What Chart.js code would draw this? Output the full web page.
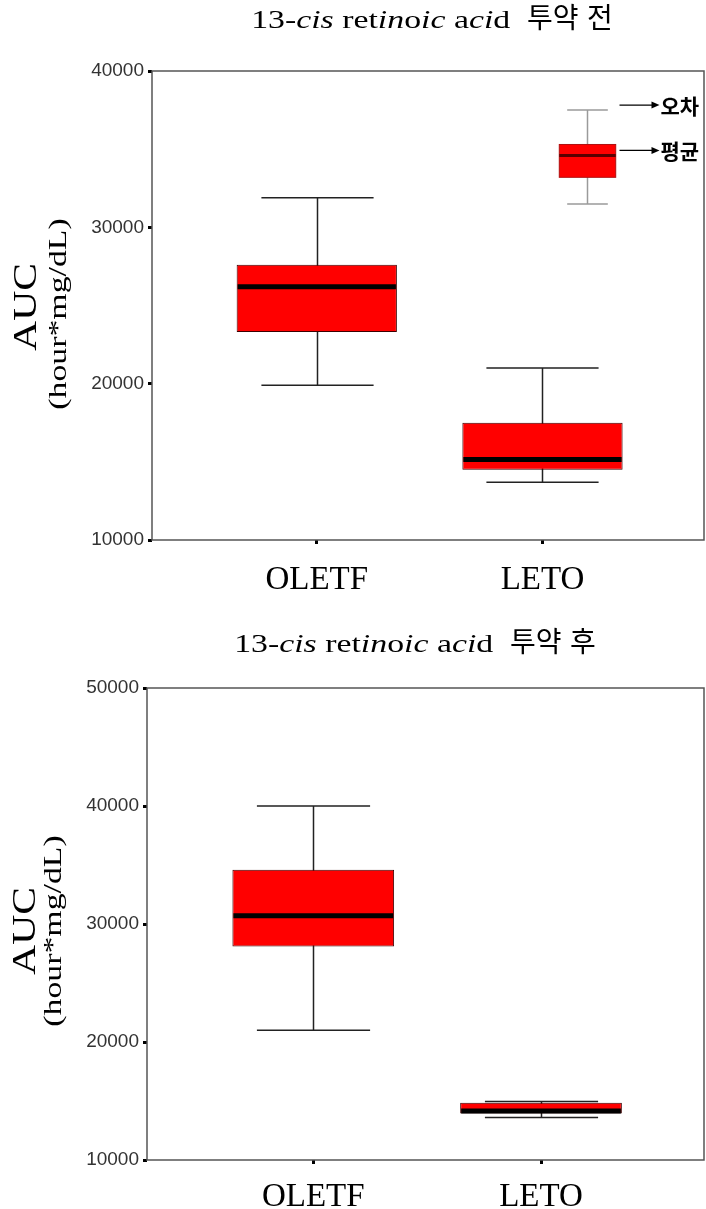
<!DOCTYPE html>
<html>
<head>
<meta charset="utf-8">
<script src="https://cdn.jsdelivr.net/npm/chart.js@4.4.0/dist/chart.umd.min.js"></script>
<style>
  html, body { margin: 0; padding: 0; background: #fff; }
  canvas { display: block; }
</style>
</head>
<body>
<canvas id="beforeChart" width="706" height="605"></canvas>
<canvas id="afterChart" width="706" height="604"></canvas>
<script>
// --- DATA ---
const categories = ['OLETF', 'LETO'];

// AUC (hour*mg/dL) before 13-cis retinoic acid
const beforeMin = [19900, 13700];
const beforeQ1 = [23300, 14500];
const beforeMedian = [26200, 15150];
const beforeQ3 = [27600, 17500];
const beforeMax = [31900, 21000];

// AUC (hour*mg/dL) after 13-cis retinoic acid
const afterMin = [21000, 13600];
const afterQ1 = [28100, 13950];
const afterMedian = [30700, 14150];
const afterQ3 = [34600, 14850];
const afterMax = [40000, 14950];

// sample box used as the key: min, q1, median, q3, max
const keyStats = [31500, 33200, 34600, 35300, 37500];
const keyPosition = 2.196;

const beforeTicks = [10000, 40000];
const afterTicks = [10000, 50000];

// --- TEXT HELPERS ---
const SERIF = '"Liberation Serif", "DejaVu Serif", serif';
const HANGUL = '"Noto Sans CJK KR", sans-serif';

function titleSegments(suffix) {
    const up = `26px ${SERIF}`;
    const it = `italic 26px ${SERIF}`;
    const ko = `28px ${HANGUL}`;
    return [
        { text: '13-', font: up, sx: 1.3 },
        { text: 'cis', font: it, sx: 1.3 },
        { text: ' ret', font: up, sx: 1.3 },
        { text: 'in', font: it, sx: 1.3 },
        { text: 'o', font: up, sx: 1.3 },
        { text: 'ic', font: it, sx: 1.3 },
        { text: ' a', font: up, sx: 1.3 },
        { text: 'ci', font: it, sx: 1.3 },
        { text: 'd', font: up, sx: 1.3 },
        { text: '  ', font: up, sx: 1.3 },
        { text: '투약', font: ko, sx: 1 },
        { text: ' ', font: up, sx: 1.3 },
        { text: suffix, font: ko, sx: 1 }
    ];
}

function drawSegments(ctx, segs, cx, baseline) {
    const widths = segs.map(s => {
        ctx.font = s.font;
        return ctx.measureText(s.text).width * s.sx;
    });
    let x = cx - widths.reduce((a, b) => a + b, 0) / 2;
    segs.forEach((s, i) => {
        ctx.save();
        ctx.font = s.font;
        ctx.fillStyle = '#000';
        ctx.textBaseline = 'alphabetic';
        ctx.translate(x, baseline);
        ctx.scale(s.sx, 1);
        ctx.fillText(s.text, 0, 0);
        ctx.restore();
        x += widths[i];
    });
}

// rotated text, stretched along its own direction
function drawVertical(ctx, text, font, sx, cx, cy) {
    ctx.save();
    ctx.translate(cx, cy);
    ctx.rotate(-Math.PI / 2);
    ctx.scale(sx, 1);
    ctx.font = font;
    ctx.fillStyle = '#000';
    ctx.textAlign = 'center';
    ctx.textBaseline = 'middle';
    ctx.fillText(text, 0, 0);
    ctx.restore();
}

// --- PLUGINS ---

function boxPlotPlugin(stats) {
    return {
        id: 'boxPlot',
        beforeDatasetsDraw(chart) {
            const { ctx, scales: { x, y } } = chart;
            const bars = chart.getDatasetMeta(0).data;
            ctx.save();
            ctx.strokeStyle = '#222';
            ctx.lineWidth = 1.5;
            bars.forEach((bar, i) => {
                const cx = Math.round(x.getPixelForValue(i + 1)) + 0.5;
                const capHalf = bar.width * 0.35;
                const top = y.getPixelForValue(stats.max[i]);
                const bottom = y.getPixelForValue(stats.min[i]);
                ctx.beginPath();
                ctx.moveTo(cx, top);
                ctx.lineTo(cx, bottom);
                ctx.moveTo(cx - capHalf, top);
                ctx.lineTo(cx + capHalf, top);
                ctx.moveTo(cx - capHalf, bottom);
                ctx.lineTo(cx + capHalf, bottom);
                ctx.stroke();
            });
            ctx.restore();
        },
        afterDatasetsDraw(chart) {
            const { ctx, scales: { y } } = chart;
            const bars = chart.getDatasetMeta(0).data;
            ctx.save();
            ctx.strokeStyle = '#000';
            ctx.lineWidth = 5;
            bars.forEach((bar, i) => {
                const my = y.getPixelForValue(stats.median[i]);
                ctx.beginPath();
                ctx.moveTo(bar.x - bar.width / 2 + 1, my);
                ctx.lineTo(bar.x + bar.width / 2 - 1, my);
                ctx.stroke();
            });
            ctx.restore();
        }
    };
}

function framePlugin(cfg) {
    return {
        id: 'frame',
        afterDraw(chart) {
            const { ctx, chartArea: a } = chart;
            ctx.save();
            ctx.strokeStyle = '#555';
            ctx.lineWidth = 1.5;
            ctx.strokeRect(a.left, a.top, a.right - a.left - 1, a.bottom - a.top);
            ctx.restore();

            drawSegments(ctx, titleSegments(cfg.suffix), cfg.titleX, cfg.titleY);
            drawVertical(ctx, 'AUC', `33px ${SERIF}`, 1.26, cfg.auc[0], cfg.auc[1]);
            drawVertical(ctx, '(hour*mg/dL)', `26px ${SERIF}`, 1.3, cfg.unit[0], cfg.unit[1]);
        }
    };
}

const keyPlugin = {
    id: 'boxKey',
    afterDatasetsDraw(chart) {
        const { ctx, scales: { x, y } } = chart;
        const [kMin, kQ1, kMed, kQ3, kMax] = keyStats.map(v => y.getPixelForValue(v));
        const cx = Math.round(x.getPixelForValue(keyPosition)) + 0.5;
        const half = (x.getPixelForValue(keyPosition + 0.125) - x.getPixelForValue(keyPosition - 0.125)) / 2;
        const capHalf = half * 0.72;

        ctx.save();
        ctx.strokeStyle = '#9a9a9a';
        ctx.lineWidth = 1.5;
        ctx.beginPath();
        ctx.moveTo(cx, kMax); ctx.lineTo(cx, kMin);
        ctx.moveTo(cx - capHalf, kMax); ctx.lineTo(cx + capHalf, kMax);
        ctx.moveTo(cx - capHalf, kMin); ctx.lineTo(cx + capHalf, kMin);
        ctx.stroke();

        ctx.fillStyle = '#ff0000';
        ctx.fillRect(cx - half, kQ3, half * 2, kQ1 - kQ3);
        ctx.strokeStyle = '#b01010';
        ctx.lineWidth = 1;
        ctx.strokeRect(cx - half, kQ3, half * 2, kQ1 - kQ3);
        ctx.strokeStyle = '#5a0000';
        ctx.lineWidth = 3;
        ctx.beginPath();
        ctx.moveTo(cx - half, kMed); ctx.lineTo(cx + half, kMed);
        ctx.stroke();

        // pointer arrows with their labels
        [[kMax - 5, '오차'], [kMed - 5, '평균']].forEach(([ay, label]) => {
            const x0 = cx + 32, x1 = cx + 72;
            ctx.strokeStyle = '#000';
            ctx.lineWidth = 1.2;
            ctx.beginPath();
            ctx.moveTo(x0, ay); ctx.lineTo(x1 - 6, ay);
            ctx.stroke();
            ctx.fillStyle = '#000';
            ctx.beginPath();
            ctx.moveTo(x1, ay); ctx.lineTo(x1 - 8, ay - 3.5); ctx.lineTo(x1 - 8, ay + 3.5);
            ctx.closePath();
            ctx.fill();
            ctx.font = `bold 21px ${HANGUL}`;
            ctx.textBaseline = 'middle';
            ctx.fillText(label, x1 + 1, ay + 1);
        });
        ctx.restore();
    }
};

// --- CHART BUILDER ---

function renderBoxChart(canvasId, stats, ticks, frame, extraPlugins = []) {
    const ctx = document.getElementById(canvasId).getContext('2d');
    return new Chart(ctx, {
        type: 'bar',
        data: {
            datasets: [{
                data: categories.map((c, i) => ({ x: i + 1, y: [stats.q1[i], stats.q3[i]] })),
                backgroundColor: '#ff0000',
                borderColor: '#3c0000',
                borderWidth: 1,
                borderSkipped: false,
                barPercentage: 0.71,
                categoryPercentage: 1
            }]
        },
        options: {
            responsive: false,
            animation: false,
            events: [],
            layout: { padding: { top: frame.top, right: 1, left: 0, bottom: 0 } },
            plugins: { legend: { display: false }, tooltip: { enabled: false } },
            scales: {
                x: {
                    type: 'linear',
                    min: 0.27,
                    max: 2.72,
                    offset: false,
                    afterBuildTicks: scale => { scale.ticks = categories.map((c, i) => ({ value: i + 1 })); },
                    afterFit: scale => { scale.height = frame.xHeight; },
                    border: { display: false },
                    grid: { offset: false, drawOnChartArea: false, drawTicks: true, tickLength: 4, tickWidth: 3, tickColor: '#000' },
                    ticks: {
                        autoSkip: false,
                        maxRotation: 0,
                        padding: frame.labelPad,
                        color: '#000',
                        font: { family: 'Liberation Serif', size: 33 },
                        callback: v => categories[v - 1]
                    }
                },
                y: {
                    min: ticks[0],
                    max: ticks[1],
                    afterFit: scale => { scale.width = frame.yWidth; },
                    border: { display: false },
                    grid: { drawOnChartArea: false, drawTicks: true, tickLength: 4, tickWidth: 3, tickColor: '#000' },
                    ticks: {
                        stepSize: 10000,
                        padding: 4,
                        color: '#333',
                        font: { family: 'Liberation Sans', size: 19 },
                        callback: v => String(v)
                    }
                }
            }
        },
        plugins: [boxPlotPlugin(stats), framePlugin(frame), ...extraPlugins]
    });
}

// --- INITIAL LOAD ---
renderBoxChart('beforeChart',
    { min: beforeMin, q1: beforeQ1, median: beforeMedian, q3: beforeQ3, max: beforeMax },
    beforeTicks,
    { top: 71, xHeight: 65, yWidth: 152, labelPad: 17, suffix: '전', titleX: 432, titleY: 28, auc: [27, 307], unit: [59, 314] },
    [keyPlugin]);

renderBoxChart('afterChart',
    { min: afterMin, q1: afterQ1, median: afterMedian, q3: afterQ3, max: afterMax },
    afterTicks,
    { top: 83, xHeight: 49, yWidth: 147, labelPad: 14, suffix: '후', titleX: 415, titleY: 47, auc: [26, 326], unit: [54, 326] });
</script>
</body>
</html>
